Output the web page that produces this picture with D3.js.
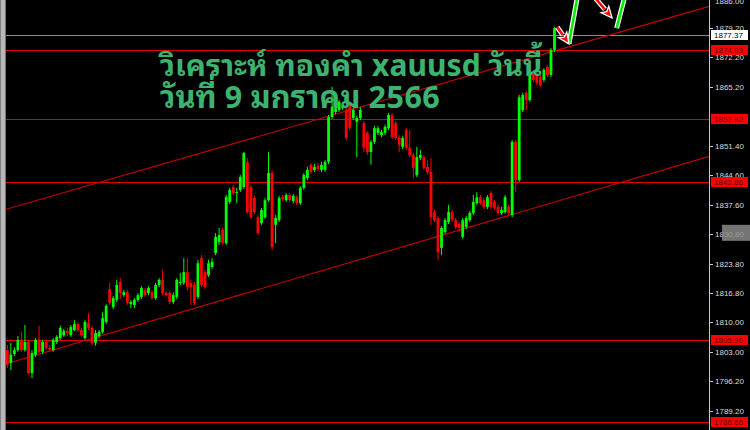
<!DOCTYPE html>
<html><head><meta charset="utf-8">
<script src="https://cdn.jsdelivr.net/npm/d3@7"></script>
<style>html,body{margin:0;padding:0;background:#000;overflow:hidden}</style>
</head><body><svg id="c" width="750" height="430"></svg>
<script>
// ---------- data ----------
const tickValues = [1886.00,1879.20,1872.20,1865.20,1851.40,1844.60,1837.60,1830.80,1823.80,1816.80,1810.00,1803.00,1796.20,1789.20];
const levelLines = [1874.03,1857.82,1842.86,1805.96,1786.66];
const currentPrice = 1877.37;
const titleLines = ["วิเคราะห์ ทองคำ xauusd วันนี้", "วันที่ 9 มกราคม 2566"];

const opens = [
1803.5,1800.5,1802.6,1803.5,1805.9,1803.5,1805.4,1798.1,1802.4,1805.9,
1803.1,1805.4,1804.0,1803.5,1805.4,1806.3,1807.0,1808.0,1807.0,1808.2,
1809.6,1808.2,1806.3,1809.9,1808.7,1805.2,1806.8,1807.8,1810.1,1817.8,
1813.6,1815.3,1819.5,1816.4,1817.1,1814.3,1814.1,1815.3,1816.0,1817.6,
1816.9,1817.1,1815.7,1818.8,1820.0,1816.9,1816.9,1814.8,1816.0,1819.3,
1819.3,1821.8,1819.3,1818.8,1816.0,1825.1,1821.8,1821.1,1823.0,1826.3,
1828.9,1831.7,1828.6,1838.3,1841.8,1840.4,1841.1,1841.8,1847.7,1841.8,
1839.2,1834.7,1833.3,1834.7,1838.7,1845.1,1832.9,1834.0,1839.4,1838.7,
1839.9,1838.5,1839.4,1838.0,1841.6,1843.9,1847.0,1845.8,1846.7,1845.8,
1845.8,1847.7,1858.2,1859.4,1859.9,1860.3,1859.9,1861.0,1858.0,1857.1,
1858.0,1856.8,1854.5,1850.0,1852.4,1854.5,1854.0,1854.5,1855.6,1858.7,
1856.8,1853.5,1851.2,1855.2,1851.0,1849.3,1844.6,1848.6,1848.8,1846.5,
1845.3,1835.9,1834.5,1827.5,1831.2,1833.6,1835.9,1834.0,1833.1,1830.1,
1832.4,1834.0,1835.7,1838.0,1839.4,1838.7,1837.1,1840.4,1838.3,1837.1,
1835.7,1835.9,1837.1,1835.2,1852.4,1843.4,1859.9,1863.9,1862.2,1868.6,
1868.1,1867.6,1866.9,1870.0,1868.1,1874.0];
const highs = [
1804.7,1805.2,1804.2,1806.8,1807.8,1809.4,1805.9,1803.5,1806.3,1809.2,
1805.9,1805.9,1804.7,1806.3,1807.0,1809.2,1808.5,1808.7,1809.4,1810.6,
1810.1,1808.7,1810.6,1812.2,1809.2,1808.2,1808.2,1812.4,1814.3,1819.3,
1816.2,1820.0,1820.4,1817.6,1817.6,1815.3,1815.7,1816.9,1818.5,1818.1,
1818.5,1817.6,1819.3,1820.4,1822.3,1817.4,1817.4,1817.1,1820.4,1821.6,
1825.1,1825.1,1820.0,1819.5,1824.7,1825.8,1822.3,1824.7,1825.1,1831.0,
1832.2,1832.2,1839.9,1841.6,1842.3,1841.6,1844.6,1850.0,1848.6,1842.3,
1839.7,1835.2,1836.9,1839.2,1850.0,1845.8,1835.2,1839.7,1839.9,1840.4,
1840.4,1840.1,1839.9,1842.0,1845.1,1846.5,1847.4,1847.2,1847.4,1847.7,
1848.1,1858.7,1865.3,1861.0,1862.2,1861.5,1860.6,1861.5,1860.3,1858.5,
1860.6,1857.3,1854.9,1852.8,1856.1,1856.1,1855.2,1856.4,1859.2,1859.2,
1857.3,1854.0,1853.8,1855.6,1855.2,1849.8,1851.2,1850.5,1849.3,1848.1,
1848.6,1836.4,1835.0,1832.6,1834.5,1837.6,1836.4,1834.5,1833.6,1834.5,
1835.0,1836.2,1839.9,1840.6,1839.9,1839.2,1839.9,1840.9,1838.7,1837.6,
1837.1,1839.9,1837.6,1852.8,1852.8,1863.4,1863.9,1864.3,1868.6,1869.0,
1868.6,1868.1,1869.7,1870.4,1874.4,1879.4];
const lows = [
1799.3,1798.8,1802.1,1803.1,1803.1,1803.1,1797.7,1796.9,1801.9,1802.8,
1802.6,1803.5,1803.1,1803.1,1804.9,1805.9,1806.6,1806.8,1806.6,1808.0,
1807.8,1806.6,1805.9,1808.2,1804.7,1804.5,1806.3,1807.3,1809.6,1814.1,
1813.1,1814.8,1815.5,1816.0,1814.1,1813.4,1813.4,1814.8,1815.5,1816.0,
1816.4,1815.3,1815.3,1818.3,1816.4,1816.0,1814.3,1814.3,1815.5,1818.8,
1818.8,1817.6,1814.1,1814.1,1815.5,1818.3,1817.8,1820.7,1822.5,1825.8,
1828.2,1828.2,1828.2,1837.8,1839.9,1838.0,1840.6,1841.3,1835.5,1834.3,
1835.5,1830.5,1832.9,1834.3,1838.3,1827.0,1828.6,1833.6,1838.5,1838.3,
1838.3,1838.0,1837.6,1837.6,1841.1,1843.4,1844.8,1845.3,1845.5,1845.3,
1845.3,1847.2,1857.8,1858.9,1859.4,1859.9,1852.8,1855.2,1857.5,1848.8,
1857.5,1850.0,1849.3,1847.0,1851.9,1854.0,1853.5,1854.0,1855.2,1853.1,
1852.8,1850.0,1850.7,1850.5,1848.8,1843.9,1844.1,1848.1,1845.8,1844.8,
1832.9,1833.6,1824.7,1825.8,1830.8,1833.1,1833.6,1831.9,1831.7,1829.6,
1831.9,1833.6,1835.2,1837.6,1837.6,1836.6,1836.6,1836.6,1836.4,1835.2,
1835.2,1835.5,1835.2,1834.7,1840.6,1843.0,1859.4,1859.9,1861.8,1866.4,
1865.7,1865.3,1866.4,1867.6,1867.6,1873.5];
const closes = [
1800.0,1802.4,1803.5,1805.9,1803.5,1805.4,1798.1,1802.8,1805.9,1803.1,
1805.4,1804.0,1803.8,1805.9,1806.6,1808.7,1808.0,1807.5,1808.9,1809.6,
1808.2,1807.0,1810.1,1808.7,1805.2,1807.5,1807.8,1811.0,1813.9,1814.6,
1815.7,1818.8,1816.9,1817.1,1814.6,1814.8,1815.3,1816.4,1818.1,1816.4,
1818.1,1815.7,1818.8,1820.0,1816.9,1816.4,1814.8,1816.4,1820.0,1819.5,
1821.8,1818.3,1818.3,1814.6,1823.9,1818.8,1818.3,1823.9,1824.2,1830.1,
1830.5,1828.6,1839.4,1841.1,1840.4,1840.6,1844.1,1849.8,1835.9,1834.7,
1835.9,1831.0,1836.4,1838.7,1845.1,1827.7,1834.5,1839.2,1839.0,1839.9,
1838.7,1839.7,1838.0,1841.6,1844.6,1845.8,1845.3,1846.5,1846.0,1847.0,
1847.7,1858.2,1860.6,1860.3,1861.8,1861.0,1853.3,1855.6,1859.9,1858.0,
1859.9,1851.0,1850.0,1852.4,1855.6,1855.6,1854.7,1855.9,1858.7,1853.5,
1853.3,1851.7,1853.3,1851.0,1849.3,1846.3,1848.8,1849.3,1846.3,1845.3,
1834.7,1834.0,1826.5,1832.2,1834.0,1835.9,1834.0,1832.4,1832.2,1834.0,
1834.5,1835.7,1838.3,1839.4,1838.0,1837.1,1839.4,1837.1,1836.9,1835.7,
1836.4,1839.4,1835.7,1852.4,1843.4,1862.9,1863.4,1862.2,1868.1,1866.9,
1866.2,1865.7,1869.3,1868.1,1874.0,1879.1];

// trend lines (bar index, price) – rays to the right
const channelUpper = [[0, 1836.65], [155, 1873.73]];
const channelLower = [[0, 1800.35], [155, 1838.27]];
// hand-drawn arrows (bar index, price)
const redArrows = [[[155.8, 1879.3], [159.1, 1875.4]], [[166.2, 1886.5], [171.3, 1881.5]]];
const greenStrokes = [[[159.1, 1875.4], [161.5, 1886.5]], [[172.6, 1879.1], [174.9, 1886.5]]];

// ---------- drawing ----------
const W = 750, H = 430, plotL = 6, plotR = 709;
const svg = d3.select("#c");
svg.append("rect").attr("width", W).attr("height", H).attr("fill", "#000");

const x = d3.scaleLinear().domain([0, opens.length - 1]).range([7.3, 554.5]);
const y = d3.scaleLinear().domain([1784.74, 1885.70]).range([H, 0]);

svg.append("defs").append("clipPath").attr("id", "plot")
  .append("rect").attr("x", plotL).attr("y", 0).attr("width", plotR - plotL).attr("height", H);
const g = svg.append("g").attr("clip-path", "url(#plot)");

// horizontal level lines
g.selectAll("line.lvl").data(levelLines).join("line")
  .attr("x1", plotL).attr("x2", plotR)
  .attr("y1", d => Math.round(y(d)) + 0.5).attr("y2", d => Math.round(y(d)) + 0.5)
  .attr("stroke", "#e00000").attr("stroke-width", 1);
// current price line
g.append("line").attr("x1", plotL).attr("x2", plotR)
  .attr("y1", Math.round(y(currentPrice)) + 0.5).attr("y2", Math.round(y(currentPrice)) + 0.5)
  .attr("stroke", "#8a8a96").attr("stroke-width", 1);

// channel rays
function ray(pts, startIdx) {
  const [a, b] = pts;
  const slope = (b[1] - a[1]) / (b[0] - a[0]);
  const endIdx = x.invert(plotR + 5);
  return [[startIdx, a[1] + slope * (startIdx - a[0])], [endIdx, a[1] + slope * (endIdx - a[0])]];
}
[[channelUpper, x.invert(plotL - 2)], [channelLower, 0]].forEach(([pts, s]) => {
  const r = ray(pts, s);
  g.append("line")
    .attr("x1", x(r[0][0])).attr("y1", y(r[0][1]))
    .attr("x2", x(r[1][0])).attr("y2", y(r[1][1]))
    .attr("stroke", "#c80000").attr("stroke-width", 1.1);
});

// candles
const idx = d3.range(opens.length);
const bull = i => closes[i] >= opens[i];
const col = i => bull(i) ? "#00ff00" : "#ff0000";
g.selectAll("line.wick").data(idx).join("line")
  .attr("x1", i => x(i)).attr("x2", i => x(i))
  .attr("y1", i => y(highs[i])).attr("y2", i => y(lows[i]))
  .attr("stroke", col).attr("stroke-width", 1);
g.selectAll("rect.body").data(idx).join("rect")
  .attr("x", i => x(i) - 1.4).attr("width", 2.8)
  .attr("y", i => y(Math.max(opens[i], closes[i])))
  .attr("height", i => Math.max(1, Math.abs(y(opens[i]) - y(closes[i]))))
  .attr("fill", col);

// title
const title = g.append("g");
const targets = [383, 280];
titleLines.forEach((t, k) => {
  const tx = title.append("text").attr("x", 160).attr("y", 76 + k * 32)
    .attr("font-family", "'Noto Sans Thai Looped','Loma','Garuda','Tahoma','Leelawadee UI','Noto Sans Thai','Noto Sans',sans-serif")
    .attr("font-weight", "bold").attr("font-size", 24).attr("fill", "#3cb371").text(t);
  const len = tx.node().getComputedTextLength();
  if (len > 0) tx.attr("font-size", 24 * targets[k] / len);
});

// arrows
function pxl(p) { return [x(p[0]), y(p[1])]; }
greenStrokes.forEach(s => {
  const [a, b] = s.map(pxl);
  g.append("line").attr("x1", a[0]).attr("y1", a[1]).attr("x2", b[0]).attr("y2", b[1])
    .attr("stroke", "#fff").attr("stroke-width", 5);
  g.append("line").attr("x1", a[0]).attr("y1", a[1]).attr("x2", b[0]).attr("y2", b[1])
    .attr("stroke", "#00ee00").attr("stroke-width", 2.6);
});
redArrows.forEach(s => {
  const [a, b] = s.map(pxl);
  const ang = Math.atan2(b[1] - a[1], b[0] - a[0]);
  const hl = 11, hw = 5;
  const bx = b[0] - hl * Math.cos(ang), by = b[1] - hl * Math.sin(ang);
  const nx = -Math.sin(ang), ny = Math.cos(ang);
  g.append("line").attr("x1", a[0]).attr("y1", a[1]).attr("x2", bx).attr("y2", by)
    .attr("stroke", "#fff").attr("stroke-width", 5);
  g.append("line").attr("x1", a[0]).attr("y1", a[1]).attr("x2", bx).attr("y2", by)
    .attr("stroke", "#ff0000").attr("stroke-width", 2.6);
  g.append("polygon")
    .attr("points", [[b[0], b[1]], [bx + nx * hw, by + ny * hw], [bx + (b[0]-bx)*0.25, by + (b[1]-by)*0.25], [bx - nx * hw, by - ny * hw]].map(p => p.join(",")).join(" "))
    .attr("fill", "#ff0000").attr("stroke", "#fff").attr("stroke-width", 1.3);
});

// left border strip
svg.append("rect").attr("x", 0).attr("y", 0).attr("width", 6).attr("height", H).attr("fill", "#b8b8b8");
svg.append("rect").attr("x", 0).attr("y", 0).attr("width", 1).attr("height", H).attr("fill", "#808080");
svg.append("rect").attr("x", 5).attr("y", 0).attr("width", 1).attr("height", H).attr("fill", "#707070");

// right price axis
const ax = svg.append("g");
ax.append("line").attr("x1", plotR + 0.5).attr("x2", plotR + 0.5).attr("y1", 0).attr("y2", H)
  .attr("stroke", "#c8c8c8").attr("stroke-width", 1);
const fmt = d3.format(".2f");
const font = "'Liberation Sans',Arial,sans-serif";
ax.selectAll("line.tk").data(tickValues).join("line")
  .attr("x1", plotR + 1).attr("x2", plotR + 4)
  .attr("y1", d => Math.round(y(d)) + 0.5).attr("y2", d => Math.round(y(d)) + 0.5)
  .attr("stroke", "#c8c8c8");
ax.selectAll("text.tl").data(tickValues).join("text")
  .attr("x", 715).attr("y", d => Math.max(y(d), 1)).attr("dy", "0.36em")
  .attr("font-family", font).attr("font-size", 8).attr("fill", "#dcdcdc").text(fmt);

// gray marker box near 1830.80
ax.append("rect").attr("x", 722).attr("y", y(1830.80) - 9).attr("width", 28).attr("height", 16)
  .attr("fill", "#8a8a8a").attr("opacity", 0.85);

// level labels
levelLines.forEach(v => {
  const yy = Math.round(y(v));
  ax.append("rect").attr("x", 711).attr("y", yy - 5).attr("width", 37).attr("height", 10).attr("fill", "#ff0000");
  ax.append("text").attr("x", 714).attr("y", yy).attr("dy", "0.36em")
    .attr("font-family", font).attr("font-size", 8).attr("fill", "#660000").text(fmt(v));
});
{
  const yy = Math.round(y(currentPrice));
  ax.append("rect").attr("x", 711).attr("y", yy - 5).attr("width", 37).attr("height", 10).attr("fill", "#ffffff");
  ax.append("text").attr("x", 714).attr("y", yy).attr("dy", "0.36em")
    .attr("font-family", font).attr("font-size", 8).attr("fill", "#000").text(fmt(currentPrice));
}
</script></body></html>
